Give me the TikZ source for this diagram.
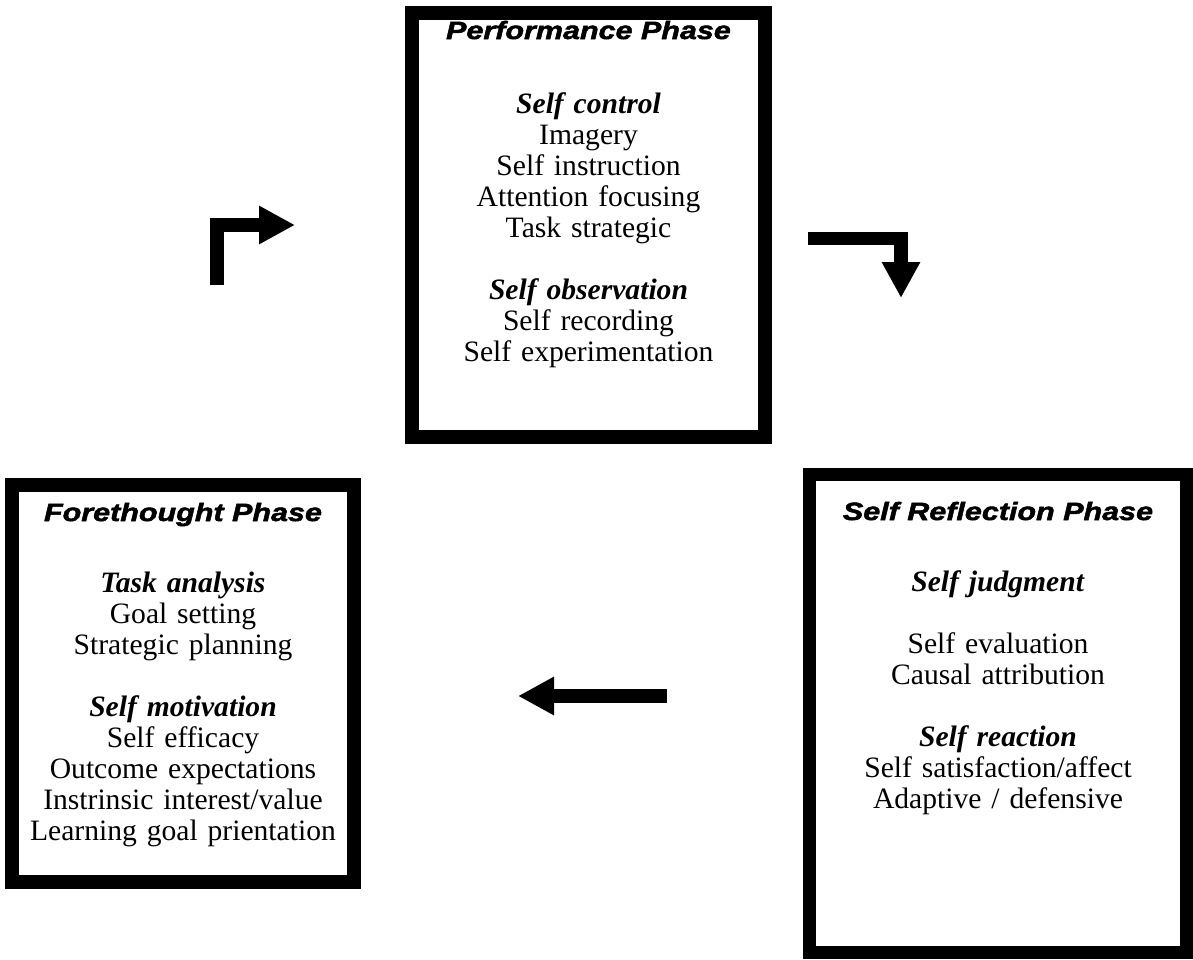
\documentclass[tikz,border=0pt]{standalone}
\usepackage{fontspec}
\setmainfont{Liberation Serif}
\newfontfamily\headfont[FakeStretch=1.22,FakeBold=2]{Liberation Sans}
\usepackage{tikz}
\usetikzlibrary{arrows.meta,positioning}

\begin{document}
\begin{tikzpicture}[
    x=0.5pt, y=-0.5pt,
    phasebox/.style={rectangle, draw=black, line width=6.75pt, inner sep=0pt},
    phasehead/.style={anchor=base, font=\headfont\bfseries\itshape\fontsize{12.5}{14}\selectfont},
    phasebody/.style={anchor=base, text width=180pt, align=center, inner sep=0pt, font=\fontsize{14.8}{15.5}\selectfont},
    flowarrow/.style={line width=6.75pt, line join=miter, -{Triangle[length=18pt,width=18pt]}}
]
\useasboundingbox (0,0) rectangle (1193,959);

\node[phasebox, minimum width=176.5pt, minimum height=212pt] (perf) at (588.5,225) {};
\node[phasehead] (perf-title) at (588.5,39) {Performance Phase};
\node[phasebody] (perf-body) at (588.5,113) {\textbf{\textit{Self control}}\\Imagery\\Self instruction\\Attention focusing\\Task strategic\\[15.5pt]\textbf{\textit{Self observation}}\\Self recording\\Self experimentation};

\node[phasebox, minimum width=171pt, minimum height=198.5pt] (fore) at (183,683.5) {};
\node[phasehead] (fore-title) at (183,521) {Forethought Phase};
\node[phasebody] (fore-body) at (183,592) {\textbf{\textit{Task analysis}}\\Goal setting\\Strategic planning\\[15.5pt]\textbf{\textit{Self motivation}}\\Self efficacy\\Outcome expectations\\Instrinsic interest/value\\Learning goal prientation};

\node[phasebox, minimum width=188.5pt, minimum height=239pt] (refl) at (998,713.5) {};
\node[phasehead] (refl-title) at (998,520) {Self Reflection Phase};
\node[phasebody] (refl-body) at (998,591) {\textbf{\textit{Self judgment}}\\[15.5pt]Self evaluation\\Causal attribution\\[15.5pt]\textbf{\textit{Self reaction}}\\Self satisfaction/affect\\Adaptive / defensive};

\coordinate (up-start) at (217,285);
\coordinate (up-end) at (295,225);
\coordinate (down-start) at (808,238.5);
\coordinate (down-end) at (901,298);
\coordinate (back-start) at (667,696);
\coordinate (back-end) at (518,696);

\draw[flowarrow] (up-start) |- (up-end);
\draw[flowarrow] (down-start) -| (down-end);
\draw[flowarrow] (back-start) -- (back-end);
\end{tikzpicture}
\end{document}
